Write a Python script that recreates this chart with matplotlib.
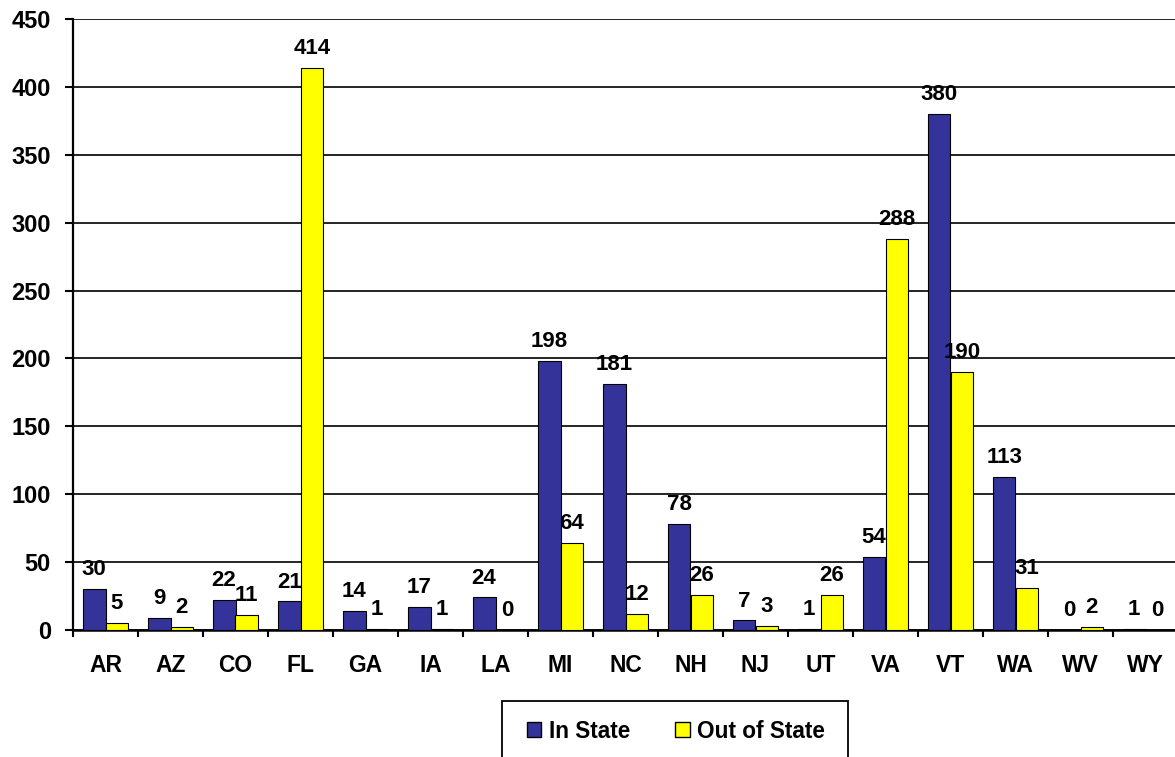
import matplotlib
matplotlib.use("Agg")
import matplotlib.pyplot as plt
import numpy as np
from matplotlib.patches import Rectangle, Patch

states = ["AR", "AZ", "CO", "FL", "GA", "IA", "LA", "MI", "NC", "NH", "NJ", "UT", "VA", "VT", "WA", "WV", "WY"]
in_state = [30, 9, 22, 21, 14, 17, 24, 198, 181, 78, 7, 1, 54, 380, 113, 0, 1]
out_state = [5, 2, 11, 414, 1, 1, 0, 64, 12, 26, 3, 26, 288, 190, 31, 2, 0]
yticks = [0, 50, 100, 150, 200, 250, 300, 350, 400, 450]

plt.rcParams['font.family'] = ['Liberation Sans', 'DejaVu Sans']
plt.rcParams['font.weight'] = 'bold'
FS_VAL = 16
FS_X = 16.5
FS_Y = 17
FS_LEG = 16.3

fig = plt.figure(figsize=(11.75, 7.57), dpi=100)
ax = fig.add_axes([73/1175, 1-630/757, 1105/1175, 611/757])

x = np.arange(len(states))
w = 0.35
blue = "#333399"
yellow = "#FFFF00"
ax.bar(x - w/2, in_state, w, color=blue, edgecolor="black", linewidth=0.8, zorder=3)
ax.bar(x + w/2, out_state, w, color=yellow, edgecolor="black", linewidth=0.8, zorder=3)

for xi, v in zip(x, in_state):
    ax.annotate(str(v), (xi - w/2, v), xytext=(0, 10), textcoords="offset points",
                ha="center", va="baseline", fontsize=FS_VAL, fontweight="bold", zorder=4)
for xi, v in zip(x, out_state):
    ax.annotate(str(v), (xi + w/2, v), xytext=(0, 10), textcoords="offset points",
                ha="center", va="baseline", fontsize=FS_VAL, fontweight="bold", zorder=4)

ax.set_xlim(-0.5, len(states) - 0.5)
ax.set_ylim(0, 450)
ax.set_yticks(yticks)
ax.set_yticklabels([str(t) for t in yticks], fontsize=FS_Y, fontweight="bold")
ax.set_xticks(x)
ax.set_xticklabels(states, fontsize=FS_X, fontweight="bold")
ax.set_xticks(np.arange(len(states) + 1) - 0.5, minor=True)
ax.tick_params(axis="x", which="major", length=0, pad=17)
ax.tick_params(axis="x", which="minor", length=5, width=1.5, direction="out")
ax.tick_params(axis="y", length=6, width=1.5, pad=10)

ax.yaxis.grid(True, color="black", linewidth=1.2, zorder=0)
ax.set_axisbelow(True)
for s in ["top", "right"]:
    ax.spines[s].set_visible(False)
ax.spines["left"].set_linewidth(1.6)
ax.spines["bottom"].set_linewidth(1.8)

# legend frame
fig.patches.append(Rectangle((502/1175, -0.02), 346/1175, 1-701/757 + 0.02,
                             transform=fig.transFigure, fill=False,
                             edgecolor="black", linewidth=1.3))
handles = [Patch(facecolor=blue, edgecolor="black"), Patch(facecolor=yellow, edgecolor="black")]
fig.legend(handles, ["In State", "Out of State"], loc="center left",
           bbox_to_anchor=(527/1175, 1-731/757), ncol=2, frameon=False,
           handlelength=0.62, handleheight=0.62, handletextpad=0.35, columnspacing=2.0,
           prop={"size": FS_LEG, "weight": "bold"}, borderaxespad=0, borderpad=0)

fig.savefig("out.png", dpi=100)
